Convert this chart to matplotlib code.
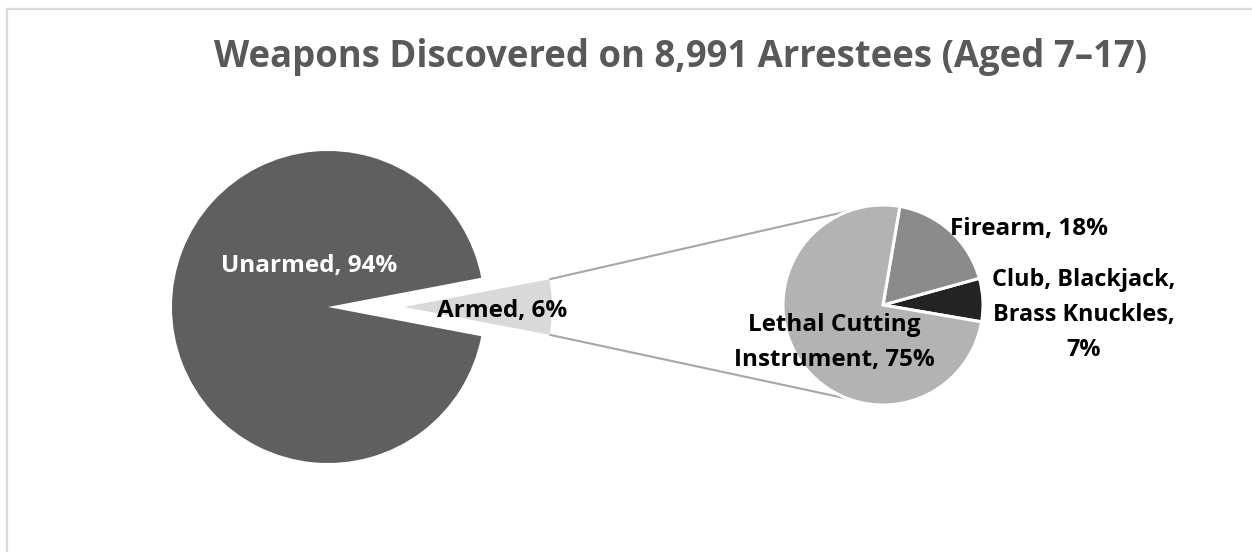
import numpy as np
import matplotlib
matplotlib.use("Agg")
import matplotlib.pyplot as plt
from matplotlib.lines import Line2D

# ---- data -------------------------------------------------------------
main_labels = ["Unarmed", "Armed"]
main_values = [94, 6]
main_colors = ["#5f5f5f", "#d9d9d9"]

sub_labels = ["Club, Blackjack,\nBrass Knuckles,", "Firearm", "Lethal Cutting\nInstrument"]
sub_values = [7, 18, 75]
sub_colors = ["#232323", "#8b8b8b", "#b3b3b3"]

title = "Weapons Discovered on 8,991 Arrestees (Aged 7\u201317)"

# ---- figure -----------------------------------------------------------
W, H = 1252, 552
fig = plt.figure(figsize=(W / 100, H / 100), dpi=100)
ax = fig.add_axes([0, 0, 1, 1])

font = "Open Sans"

# chart area border (top and left edges visible)
fig.add_artist(Line2D([7 / W, 1], [1 - 9 / H, 1 - 9 / H], transform=fig.transFigure,
                      color="#d9d9d9", lw=1.6))
fig.add_artist(Line2D([7 / W, 7 / W], [0, 1 - 9 / H], transform=fig.transFigure,
                      color="#d9d9d9", lw=1.6))

# ---- main pie: armed share pulled out toward the breakdown -------------
main_center = (328, H - 307)
main_r = 156
armed_frac = main_values[1] / sum(main_values)
half = 360 * armed_frac / 2
explode_px = 76
wedges, _ = ax.pie(main_values, colors=main_colors, startangle=half,
                   counterclock=True, center=main_center, radius=main_r,
                   explode=[0, explode_px], frame=True,
                   wedgeprops=dict(linewidth=0))
armed_r = 148
wedges[1].set_radius(armed_r)

# ---- secondary pie: armed breakdown ---------------------------------
sub_center = (883, H - 305)
sub_r = 100
sub_start = -9.7
sw, _ = ax.pie(sub_values, colors=sub_colors, startangle=sub_start,
               counterclock=True, center=sub_center, radius=sub_r, frame=True,
               wedgeprops=dict(edgecolor="white", linewidth=2.2))
ax.set_xlim(0, W)
ax.set_ylim(0, H)
ax.set_aspect("equal")
ax.axis("off")

# connector lines from the armed slice to the secondary pie
tip = (main_center[0] + explode_px, main_center[1])
for sgn in (1, -1):
    a = np.deg2rad(sgn * half)
    p0 = (tip[0] + armed_r * np.cos(a), tip[1] + armed_r * np.sin(a))
    b = np.deg2rad(sgn * 110)
    p1 = (sub_center[0] + sub_r * np.cos(b), sub_center[1] + sub_r * np.sin(b))
    ax.plot([p0[0], p1[0]], [p0[1], p1[1]], color="#a6a6a6", lw=1.5,
            solid_capstyle="butt", zorder=0.5)

# ---- labels -----------------------------------------------------------
lab = dict(fontfamily=font, fontweight="bold", ha="center", va="baseline",
           fontsize=17.5)


def lines(x, y0, text, color="black", step=35, size=17.5):
    for i, line in enumerate(text.split("\n")):
        ax.text(x, H - (y0 + i * step), line, color=color,
                **{**lab, "fontsize": size})


lines(309, 272, f"{main_labels[0]}, {main_values[0]}%", color="white")
lines(502, 317, f"{main_labels[1]}, {main_values[1]}%")
lines(1029, 235, f"{sub_labels[1]}, {sub_values[1]}%")
lines(1084, 286, f"{sub_labels[0]}\n{sub_values[0]}%", size=16.8)
lines(834, 331, f"{sub_labels[2]}, {sub_values[2]}%")

ax.text(681, H - 67, title, fontfamily=font, fontweight="bold", fontsize=26.3,
        color="#595959", ha="center", va="baseline")

fig.savefig("out.png", dpi=100, facecolor="white")
